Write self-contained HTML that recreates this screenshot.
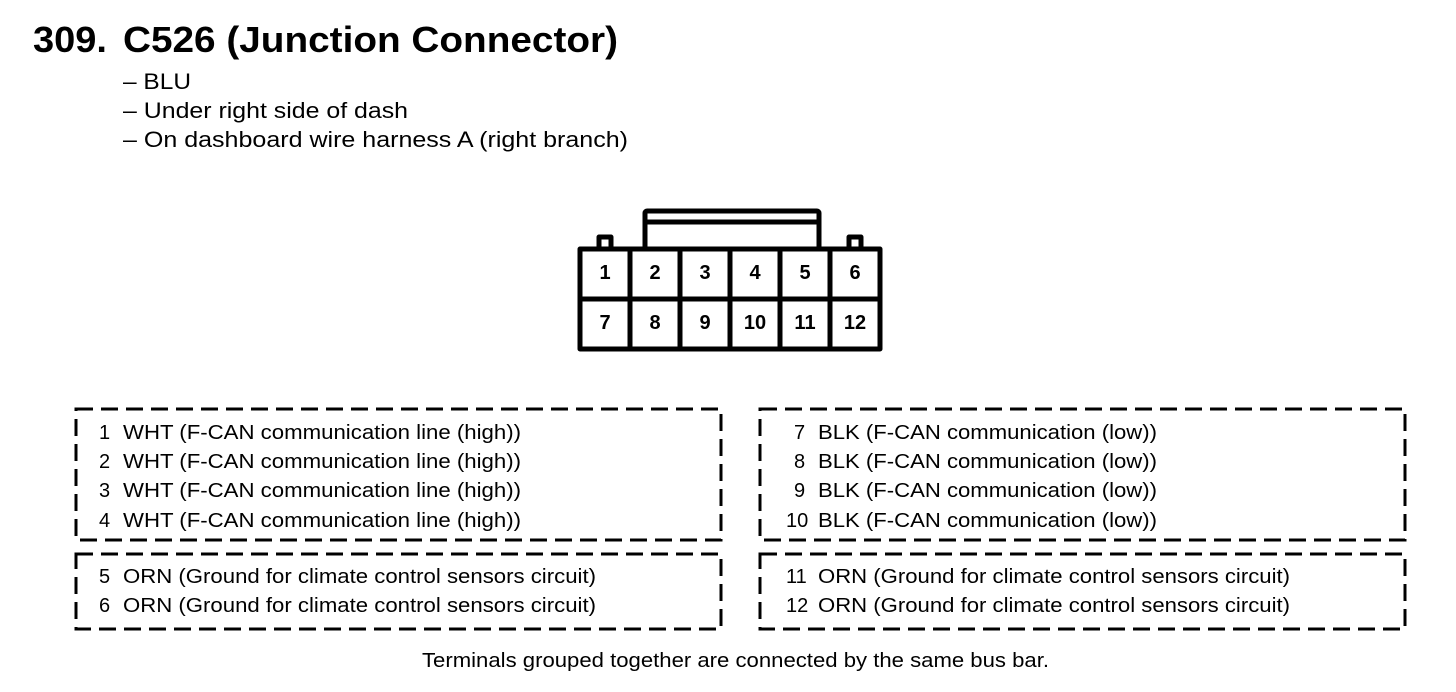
<!DOCTYPE html>
<html><head><meta charset="utf-8"><style>
html,body{margin:0;padding:0;background:#fff;}
svg{display:block;}
text{font-family:"Liberation Sans",sans-serif;fill:#000;}
</style></head><body>
<svg width="1456" height="692" viewBox="0 0 1456 692" xmlns="http://www.w3.org/2000/svg">
<text x="33" y="52" font-size="36" font-weight="bold" textLength="74" lengthAdjust="spacingAndGlyphs">309.</text>
<text x="123" y="52" font-size="36" font-weight="bold" textLength="495" lengthAdjust="spacingAndGlyphs">C526 (Junction Connector)</text>
<text x="123" y="89" font-size="22" textLength="68" lengthAdjust="spacingAndGlyphs">– BLU</text>
<text x="123" y="118" font-size="22" textLength="285" lengthAdjust="spacingAndGlyphs">– Under right side of dash</text>
<text x="123" y="147" font-size="22" textLength="505" lengthAdjust="spacingAndGlyphs">– On dashboard wire harness A (right branch)</text>

<g fill="none" stroke="#000" stroke-width="5" stroke-linejoin="round">
<rect x="645" y="211" width="174" height="38" rx="2"/>
<line x1="645" y1="222" x2="819" y2="222"/>
<path d="M599 249 V237 H611 V249"/>
<path d="M849 249 V237 H861 V249"/>
<rect x="580" y="249" width="300" height="100" fill="#fff"/>
<line x1="580" y1="299" x2="880" y2="299"/>
<line x1="630" y1="249" x2="630" y2="349"/>
<line x1="680" y1="249" x2="680" y2="349"/>
<line x1="730" y1="249" x2="730" y2="349"/>
<line x1="780" y1="249" x2="780" y2="349"/>
<line x1="830" y1="249" x2="830" y2="349"/>
</g>
<g font-size="20" font-weight="bold" text-anchor="middle">
<text x="605" y="279">1</text><text x="655" y="279">2</text><text x="705" y="279">3</text>
<text x="755" y="279">4</text><text x="805" y="279">5</text><text x="855" y="279">6</text>
<text x="605" y="329">7</text><text x="655" y="329">8</text><text x="705" y="329">9</text>
<text x="755" y="329">10</text><text x="805" y="329">11</text><text x="855" y="329">12</text>
</g>

<g fill="none" stroke="#000" stroke-width="3" stroke-dasharray="17 8">
<rect x="76" y="409" width="645" height="131"/>
<rect x="76" y="554" width="645" height="75"/>
<rect x="760" y="409" width="645" height="131"/>
<rect x="760" y="554" width="645" height="75"/>
</g>
<g font-size="20">
<text x="99" y="439">1</text><text x="123" y="439" textLength="398" lengthAdjust="spacingAndGlyphs">WHT (F-CAN communication line (high))</text>
<text x="99" y="468">2</text><text x="123" y="468" textLength="398" lengthAdjust="spacingAndGlyphs">WHT (F-CAN communication line (high))</text>
<text x="99" y="497">3</text><text x="123" y="497" textLength="398" lengthAdjust="spacingAndGlyphs">WHT (F-CAN communication line (high))</text>
<text x="99" y="527">4</text><text x="123" y="527" textLength="398" lengthAdjust="spacingAndGlyphs">WHT (F-CAN communication line (high))</text>
<text x="99" y="583">5</text><text x="123" y="583" textLength="473" lengthAdjust="spacingAndGlyphs">ORN (Ground for climate control sensors circuit)</text>
<text x="99" y="612">6</text><text x="123" y="612" textLength="473" lengthAdjust="spacingAndGlyphs">ORN (Ground for climate control sensors circuit)</text>
<text x="794" y="439">7</text><text x="818" y="439" textLength="339" lengthAdjust="spacingAndGlyphs">BLK (F-CAN communication (low))</text>
<text x="794" y="468">8</text><text x="818" y="468" textLength="339" lengthAdjust="spacingAndGlyphs">BLK (F-CAN communication (low))</text>
<text x="794" y="497">9</text><text x="818" y="497" textLength="339" lengthAdjust="spacingAndGlyphs">BLK (F-CAN communication (low))</text>
<text x="786" y="527">10</text><text x="818" y="527" textLength="339" lengthAdjust="spacingAndGlyphs">BLK (F-CAN communication (low))</text>
<text x="786" y="583">11</text><text x="818" y="583" textLength="472" lengthAdjust="spacingAndGlyphs">ORN (Ground for climate control sensors circuit)</text>
<text x="786" y="612">12</text><text x="818" y="612" textLength="472" lengthAdjust="spacingAndGlyphs">ORN (Ground for climate control sensors circuit)</text>
<text x="422" y="667" textLength="627" lengthAdjust="spacingAndGlyphs">Terminals grouped together are connected by the same bus bar.</text>
</g>
</svg>
</body></html>
